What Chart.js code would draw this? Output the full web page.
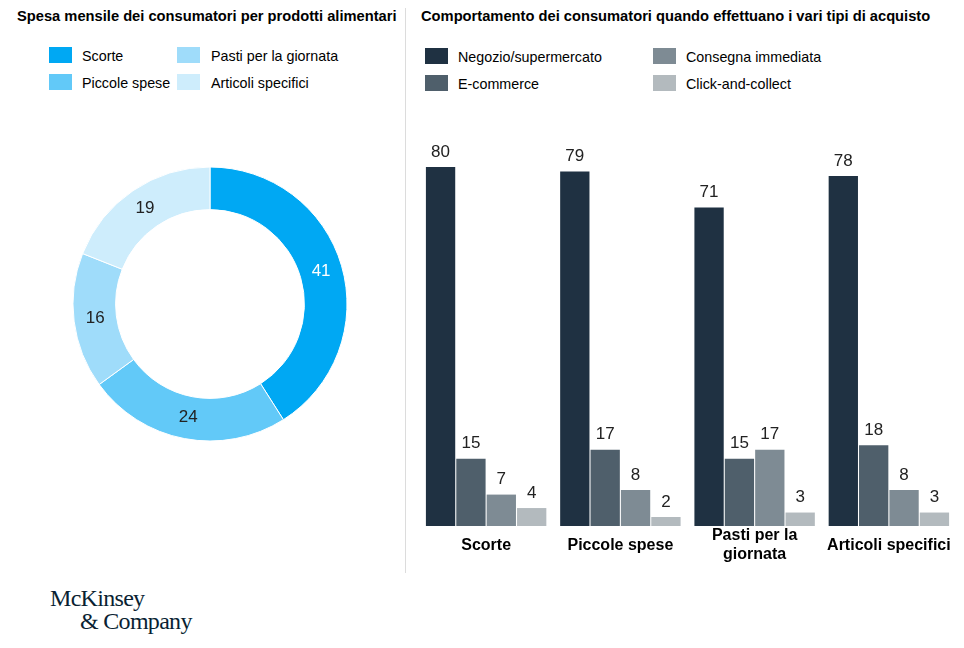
<!DOCTYPE html>
<html>
<head>
<meta charset="utf-8">
<script src="https://cdn.jsdelivr.net/npm/chart.js@4.4.1/dist/chart.umd.min.js"></script>
<style>
  body { margin: 0; background: #fff; font-family: "Liberation Sans", Arial, sans-serif; color: #000; }
  #page { position: relative; width: 964px; height: 648px; overflow: hidden; }
  .title { position: absolute; top: 8px; font-size: 14.7px; font-weight: bold; white-space: nowrap; }
  .divider { position: absolute; left: 405px; top: 8px; width: 1px; height: 565px; background: #dcdcdc; }
  .legend { position: absolute; font-size: 14.3px; }
  .legend .item { position: absolute; white-space: nowrap; height: 16px; line-height: 18px; }
  .legend .sw { position: absolute; left: 0; top: 0; width: 23px; height: 16px; }
  .legend .lbl { position: absolute; top: 0; }
  .logo { position: absolute; left: 50px; top: 587px; font-family: "Liberation Serif", "DejaVu Serif", serif; font-size: 24px; line-height: 23px; color: #0a1f33; letter-spacing: -0.7px; }
  canvas { position: absolute; }
</style>
</head>
<body>
<div id="page">
  <div class="title" style="left:17px">Spesa mensile dei consumatori per prodotti alimentari</div>
  <div class="title" style="left:421px">Comportamento dei consumatori quando effettuano i vari tipi di acquisto</div>
  <div class="divider"></div>
  <div class="legend" id="legendLeft"></div>
  <div class="legend" id="legendRight"></div>
  <div class="logo">McKinsey<br><span style="padding-left:30px">&amp; Company</span></div>
  <div id="donutBox" style="position:absolute;left:60px;top:154px;width:300px;height:300px"><canvas id="donutChart"></canvas></div>
  <div id="barBox" style="position:absolute;left:410px;top:100px;width:554px;height:470px"><canvas id="barChart"></canvas></div>
</div>
<script>
// --- data ---
const spesaLabels = ['Scorte', 'Piccole spese', 'Pasti per la giornata', 'Articoli specifici'];
const spesaValues = [41, 24, 16, 19];
const spesaColors = ['#00a8f3', '#62c9f8', '#9fdcfa', '#ceedfc'];

const categorie = ['Scorte', 'Piccole spese', ['Pasti per la', 'giornata'], 'Articoli specifici'];
const canali = ['Negozio/supermercato', 'E-commerce', 'Consegna immediata', 'Click-and-collect'];
const negozio = [80, 79, 71, 78];
const ecommerce = [15, 17, 15, 18];
const consegna = [7, 8, 17, 8];
const clickCollect = [4, 2, 3, 3];
const canaliColors = ['#1f3142', '#4f5f6b', '#7e8b94', '#b3babe'];

// --- legends (column-major, 2 columns x 2 rows) ---
function buildLegend(el, labels, colors, x0, y0, colX, rowH) {
    labels.forEach((lab, i) => {
        const col = Math.floor(i / 2), row = i % 2;
        const it = document.createElement('div');
        it.className = 'item';
        it.style.left = (x0 + colX[col]) + 'px';
        it.style.top = (y0 + row * rowH) + 'px';
        it.innerHTML = '<span class="sw" style="background:' + colors[i] + '"></span>' +
            '<span class="lbl" style="left:' + (i < 2 ? colX[2] : colX[3]) + 'px">' + lab + '</span>';
        el.appendChild(it);
    });
}
buildLegend(document.getElementById('legendLeft'), spesaLabels, spesaColors, 49, 47, [0, 128, 33, 34], 27);
buildLegend(document.getElementById('legendRight'), canali, canaliColors, 425, 48, [0, 228, 33, 33], 27);

// --- value labels ---
const donutLabels = {
    id: 'donutLabels',
    afterDatasetsDraw(chart) {
        const ctx = chart.ctx;
        ctx.save();
        ctx.font = '17px "Liberation Sans", Arial, sans-serif';
        ctx.textAlign = 'center';
        ctx.textBaseline = 'middle';
        chart.getDatasetMeta(0).data.forEach((arc, i) => {
            const p = arc.getCenterPoint();
            ctx.fillStyle = i === 0 ? '#ffffff' : '#222222';
            ctx.fillText(String(spesaValues[i]), p.x, p.y);
        });
        ctx.restore();
    }
};

const barLabels = {
    id: 'barLabels',
    afterDatasetsDraw(chart) {
        const ctx = chart.ctx;
        ctx.save();
        ctx.font = '17px "Liberation Sans", Arial, sans-serif';
        ctx.fillStyle = '#222222';
        ctx.textAlign = 'center';
        ctx.textBaseline = 'middle';
        chart.data.datasets.forEach((ds, d) => {
            chart.getDatasetMeta(d).data.forEach((bar, i) => {
                ctx.fillText(String(ds.data[i]), bar.x, bar.y - 15);
            });
        });
        ctx.restore();
    }
};

try {
    new Chart(document.getElementById('donutChart').getContext('2d'), {
        type: 'doughnut',
        data: {
            labels: spesaLabels,
            datasets: [{
                data: spesaValues,
                backgroundColor: spesaColors,
                borderColor: '#ffffff',
                borderWidth: 1
            }]
        },
        options: {
            responsive: true,
            maintainAspectRatio: false,
            animation: false,
            radius: 137,
            cutout: 103,
            plugins: { legend: { display: false }, tooltip: { enabled: false } }
        },
        plugins: [donutLabels]
    });

    const seriesData = [negozio, ecommerce, consegna, clickCollect];
    new Chart(document.getElementById('barChart').getContext('2d'), {
        type: 'bar',
        data: {
            labels: categorie,
            datasets: canali.map((c, i) => ({
                label: c,
                data: seriesData[i],
                backgroundColor: canaliColors[i],
                borderWidth: 0,
                barPercentage: 0.965,
                categoryPercentage: 0.905
            }))
        },
        options: {
            responsive: true,
            maintainAspectRatio: false,
            animation: false,
            layout: { padding: { left: 9, right: 8, top: 67, bottom: 0 } },
            scales: {
                x: {
                    grid: { display: false, drawTicks: false },
                    border: { display: false },
                    ticks: {
                        color: '#000',
                        font: { family: '"Liberation Sans", Arial, sans-serif', size: 16, weight: 'bold', lineHeight: 1.15 },
                        padding: 10,
                        maxRotation: 0,
                        autoSkip: false,
                        crossAlign: 'center'
                    },
                    afterFit: (s) => { s.height = 44; }
                },
                y: {
                    display: false,
                    min: 0,
                    max: 80
                }
            },
            plugins: { legend: { display: false }, tooltip: { enabled: false } }
        },
        plugins: [barLabels]
    });
} catch (error) {
    console.error('Error rendering charts:', error);
}
</script>
</body>
</html>
